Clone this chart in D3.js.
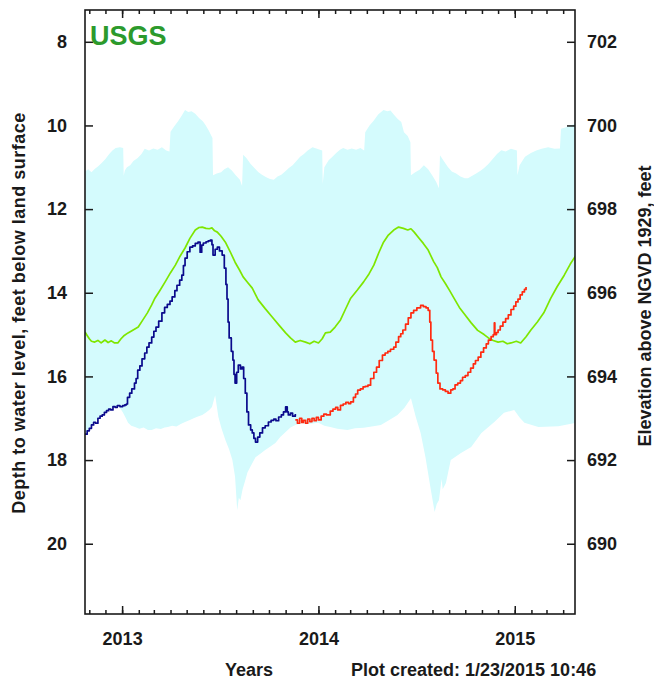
<!DOCTYPE html>
<html>
<head>
<meta charset="utf-8">
<script src="https://cdn.jsdelivr.net/npm/d3@7/dist/d3.min.js"></script>
<style>
  html, body { margin: 0; padding: 0; background: #ffffff; }
  svg { display: block; font-family: "Liberation Sans", Arial, Helvetica, sans-serif; }
</style>
</head>
<body>
<svg id="chart" width="654" height="681"></svg>
<script>
// Depth to water level (feet below land surface); land surface = 710 ft NGVD 1929
const landSurface = 710;

// Shallowest daily depth on record (top of the shaded range)
const rangeShallow = [
  ["2012-10-24",11.10],["2012-10-30",11.05],["2012-11-05",11.12],["2012-11-11",11.04],["2012-11-17",10.98],
  ["2012-11-24",10.90],["2012-12-01",10.80],["2012-12-08",10.68],["2012-12-14",10.60],["2012-12-20",10.54],
  ["2012-12-28",10.52],["2013-01-03",10.54],["2013-01-04",11.20],["2013-01-06",11.08],["2013-01-10",11.00],
  ["2013-01-16",10.95],["2013-01-22",10.85],["2013-01-30",10.78],["2013-02-06",10.68],["2013-02-12",10.56],
  ["2013-02-20",10.60],["2013-02-28",10.55],["2013-03-08",10.58],["2013-03-16",10.52],["2013-03-24",10.60],
  ["2013-03-30",10.62],["2013-04-01",10.15],["2013-04-08",10.02],["2013-04-15",9.90],["2013-04-22",9.76],
  ["2013-04-28",9.63],["2013-05-04",9.68],["2013-05-10",9.66],["2013-05-17",9.72],["2013-05-24",9.82],
  ["2013-05-31",9.90],["2013-06-05",9.99],["2013-06-11",10.12],["2013-06-18",10.30],["2013-06-19",11.19],
  ["2013-06-26",11.15],["2013-07-04",11.12],["2013-07-10",11.05],["2013-07-17",11.00],["2013-07-24",11.08],
  ["2013-08-01",11.20],["2013-08-08",11.30],["2013-08-12",11.45],["2013-08-14",10.70],["2013-08-20",10.78],
  ["2013-08-28",10.92],["2013-09-04",11.02],["2013-09-11",11.11],["2013-09-18",11.18],["2013-09-26",11.24],
  ["2013-10-03",11.28],["2013-10-10",11.30],["2013-10-17",11.22],["2013-10-24",11.18],["2013-10-31",11.10],
  ["2013-11-07",11.02],["2013-11-14",10.95],["2013-11-21",10.85],["2013-11-28",10.75],["2013-12-05",10.68],
  ["2013-12-12",10.60],["2013-12-21",10.52],["2013-12-28",10.55],["2014-01-08",10.60],["2014-01-09",11.40],
  ["2014-01-12",11.00],["2014-01-20",10.83],["2014-01-27",10.75],["2014-02-03",10.66],["2014-02-10",10.58],
  ["2014-02-16",10.54],["2014-02-24",10.58],["2014-03-04",10.55],["2014-03-12",10.58],["2014-03-20",10.54],
  ["2014-03-27",10.60],["2014-03-29",10.16],["2014-04-06",10.00],["2014-04-14",9.88],["2014-04-22",9.74],
  ["2014-05-02",9.63],["2014-05-09",9.66],["2014-05-15",9.64],["2014-05-21",9.74],["2014-05-28",9.84],
  ["2014-06-04",9.92],["2014-06-09",10.16],["2014-06-16",10.25],["2014-06-21",10.40],["2014-06-22",11.19],
  ["2014-06-30",11.12],["2014-07-08",11.06],["2014-07-16",10.95],["2014-07-24",11.05],["2014-08-01",11.20],
  ["2014-08-08",11.35],["2014-08-13",11.50],["2014-08-15",10.71],["2014-08-22",10.85],["2014-08-30",11.00],
  ["2014-09-06",11.10],["2014-09-14",11.15],["2014-09-22",11.22],["2014-09-30",11.26],["2014-10-06",11.26],
  ["2014-10-14",11.20],["2014-10-22",11.14],["2014-10-30",11.08],["2014-11-05",11.02],["2014-11-13",10.92],
  ["2014-11-21",10.80],["2014-11-29",10.68],["2014-12-07",10.59],["2014-12-15",10.62],["2014-12-25",10.56],
  ["2015-01-05",10.60],["2015-01-06",11.19],["2015-01-10",10.95],["2015-01-20",10.75],["2015-01-31",10.66],
  ["2015-02-10",10.60],["2015-02-20",10.56],["2015-03-04",10.52],["2015-03-16",10.56],["2015-03-26",10.55],
  ["2015-03-28",10.08],["2015-04-05",10.05],["2015-04-16",9.99],["2015-04-25",9.96]
];

// Deepest daily depth on record (bottom of the shaded range)
const rangeDeep = [
  ["2012-10-24",17.38],["2012-11-05",17.16],["2012-11-23",16.92],["2012-12-05",16.80],["2012-12-18",16.72],
  ["2012-12-26",16.72],["2013-01-02",16.85],["2013-01-08",17.00],["2013-01-12",17.11],["2013-01-18",17.18],
  ["2013-01-25",17.21],["2013-02-02",17.25],["2013-02-10",17.22],["2013-02-18",17.28],["2013-02-25",17.28],
  ["2013-03-05",17.24],["2013-03-14",17.26],["2013-03-21",17.22],["2013-03-27",17.21],["2013-04-04",17.18],
  ["2013-04-12",17.20],["2013-04-20",17.14],["2013-04-28",17.09],["2013-05-06",17.05],["2013-05-14",17.00],
  ["2013-05-22",16.96],["2013-05-30",16.92],["2013-06-06",16.86],["2013-06-12",16.80],["2013-06-17",16.73],
  ["2013-06-23",16.45],["2013-06-29",16.97],["2013-07-05",17.25],["2013-07-12",17.52],["2013-07-19",17.75],
  ["2013-07-25",18.00],["2013-07-30",18.40],["2013-08-03",19.20],["2013-08-06",18.90],["2013-08-09",18.96],
  ["2013-08-13",18.70],["2013-08-18",18.48],["2013-08-22",18.30],["2013-08-27",18.17],["2013-09-06",17.93],
  ["2013-09-15",17.85],["2013-09-24",17.76],["2013-10-03",17.68],["2013-10-13",17.59],["2013-10-22",17.45],
  ["2013-11-01",17.33],["2013-11-10",17.22],["2013-11-19",17.16],["2013-12-01",17.12],["2013-12-14",17.14],
  ["2014-01-01",17.11],["2014-01-12",17.18],["2014-01-23",17.21],["2014-02-05",17.25],["2014-02-24",17.28],
  ["2014-03-10",17.24],["2014-03-26",17.23],["2014-04-10",17.20],["2014-04-27",17.16],["2014-05-12",17.05],
  ["2014-05-28",16.92],["2014-06-10",16.75],["2014-06-22",16.52],["2014-07-01",16.97],["2014-07-10",17.35],
  ["2014-07-19",17.93],["2014-07-28",18.64],["2014-08-05",19.24],["2014-08-09",19.05],["2014-08-13",18.96],
  ["2014-08-18",18.45],["2014-08-20",18.70],["2014-08-26",18.55],["2014-09-04",18.00],["2014-09-23",17.83],
  ["2014-10-12",17.69],["2014-10-31",17.35],["2014-11-24",17.09],["2014-12-12",16.87],["2014-12-31",16.80],
  ["2015-01-10",16.98],["2015-01-19",17.11],["2015-02-14",17.21],["2015-03-23",17.19],["2015-04-25",17.11]
];

// Median daily depth (green line)
const medianDepth = [
  ["2012-10-24",14.94],["2012-10-28",15.02],["2012-11-01",15.10],["2012-11-05",15.16],["2012-11-11",15.18],
  ["2012-11-17",15.14],["2012-11-23",15.20],["2012-11-30",15.13],["2012-12-06",15.19],["2012-12-12",15.15],
  ["2012-12-18",15.20],["2012-12-24",15.20],["2012-12-30",15.10],["2013-01-05",15.02],["2013-01-12",14.96],
  ["2013-01-20",14.90],["2013-01-31",14.82],["2013-02-08",14.66],["2013-02-17",14.48],["2013-02-25",14.29],
  ["2013-03-03",14.13],["2013-03-12",13.95],["2013-03-22",13.74],["2013-04-01",13.52],["2013-04-10",13.34],
  ["2013-04-19",13.12],["2013-04-28",12.93],["2013-05-07",12.70],["2013-05-17",12.50],["2013-05-24",12.44],
  ["2013-05-30",12.43],["2013-06-06",12.46],["2013-06-12",12.47],["2013-06-17",12.45],["2013-06-22",12.52],
  ["2013-06-27",12.55],["2013-07-04",12.65],["2013-07-12",12.79],["2013-07-21",13.02],["2013-07-30",13.27],
  ["2013-08-07",13.45],["2013-08-14",13.62],["2013-08-22",13.75],["2013-08-31",13.89],["2013-09-11",14.17],
  ["2013-09-24",14.38],["2013-10-07",14.58],["2013-10-20",14.78],["2013-11-01",14.96],["2013-11-10",15.08],
  ["2013-11-19",15.18],["2013-11-28",15.14],["2013-12-08",15.18],["2013-12-16",15.22],["2013-12-24",15.16],
  ["2014-01-01",15.20],["2014-01-08",15.10],["2014-01-14",14.96],["2014-01-23",14.94],["2014-02-01",14.82],
  ["2014-02-11",14.65],["2014-02-20",14.40],["2014-03-02",14.13],["2014-03-14",13.94],["2014-03-26",13.74],
  ["2014-04-05",13.55],["2014-04-14",13.34],["2014-04-23",13.05],["2014-05-02",12.79],["2014-05-11",12.62],
  ["2014-05-21",12.50],["2014-05-30",12.43],["2014-06-08",12.46],["2014-06-16",12.50],["2014-06-22",12.47],
  ["2014-06-28",12.55],["2014-07-06",12.68],["2014-07-15",12.82],["2014-07-24",12.98],["2014-08-03",13.25],
  ["2014-08-10",13.40],["2014-08-17",13.62],["2014-08-25",13.78],["2014-09-02",13.95],["2014-09-10",14.13],
  ["2014-09-20",14.35],["2014-09-30",14.52],["2014-10-12",14.72],["2014-10-24",14.90],["2014-11-05",15.00],
  ["2014-11-13",15.08],["2014-11-22",15.14],["2014-12-01",15.18],["2014-12-10",15.16],["2014-12-18",15.22],
  ["2014-12-25",15.20],["2015-01-04",15.16],["2015-01-12",15.20],["2015-01-22",15.05],["2015-01-31",14.89],
  ["2015-02-12",14.70],["2015-02-24",14.48],["2015-03-09",14.13],["2015-03-21",13.85],["2015-04-03",13.58],
  ["2015-04-14",13.32],["2015-04-25",13.10]
];

// Approved daily water levels (navy line)
const approvedDepth = [
  ["2012-10-24",17.38],["2012-10-28",17.30],["2012-11-01",17.24],["2012-11-05",17.16],["2012-11-09",17.10],
  ["2012-11-13",17.12],["2012-11-17",17.00],["2012-11-21",16.95],["2012-11-25",16.92],["2012-11-29",16.86],
  ["2012-12-03",16.82],["2012-12-07",16.78],["2012-12-11",16.80],["2012-12-15",16.72],["2012-12-19",16.74],
  ["2012-12-23",16.70],["2012-12-28",16.72],["2013-01-02",16.70],["2013-01-06",16.68],["2013-01-09",16.66],
  ["2013-01-11",16.50],["2013-01-15",16.40],["2013-01-19",16.30],["2013-01-24",16.16],["2013-01-27",16.05],
  ["2013-01-30",15.85],["2013-02-03",15.75],["2013-02-07",15.58],["2013-02-12",15.44],["2013-02-16",15.30],
  ["2013-02-20",15.20],["2013-02-25",15.06],["2013-03-01",14.92],["2013-03-05",14.82],["2013-03-10",14.68],
  ["2013-03-16",14.48],["2013-03-21",14.35],["2013-03-26",14.28],["2013-03-31",14.20],["2013-04-04",14.10],
  ["2013-04-09",13.95],["2013-04-13",13.82],["2013-04-18",13.70],["2013-04-22",13.58],["2013-04-25",13.35],
  ["2013-04-28",13.17],["2013-05-02",13.02],["2013-05-07",12.91],["2013-05-12",12.88],["2013-05-17",12.82],
  ["2013-05-22",12.79],["2013-05-26",13.03],["2013-05-29",12.86],["2013-06-01",12.81],["2013-06-06",12.78],
  ["2013-06-10",12.76],["2013-06-14",12.74],["2013-06-17",12.85],["2013-06-19",13.10],["2013-06-23",12.96],
  ["2013-06-27",12.91],["2013-07-01",13.00],["2013-07-06",13.10],["2013-07-10",13.41],["2013-07-13",13.80],
  ["2013-07-15",14.15],["2013-07-17",14.70],["2013-07-19",15.08],["2013-07-23",15.40],["2013-07-26",15.61],
  ["2013-07-28",15.95],["2013-07-30",16.16],["2013-08-02",15.90],["2013-08-05",15.73],["2013-08-09",15.82],
  ["2013-08-12",15.78],["2013-08-15",16.05],["2013-08-18",16.40],["2013-08-21",16.85],["2013-08-24",17.16],
  ["2013-08-28",17.28],["2013-08-31",17.35],["2013-09-03",17.48],["2013-09-06",17.57],["2013-09-10",17.45],
  ["2013-09-14",17.35],["2013-09-19",17.23],["2013-09-24",17.18],["2013-09-30",17.09],["2013-10-05",17.05],
  ["2013-10-10",17.02],["2013-10-14",17.06],["2013-10-19",16.97],["2013-10-24",16.92],["2013-10-28",16.85],
  ["2013-11-01",16.73],["2013-11-04",16.85],["2013-11-06",16.92],["2013-11-10",16.88],["2013-11-14",16.95],
  ["2013-11-19",16.90]
];

// Provisional daily water levels (red line)
const provisionalDepth = [
  ["2013-11-19",17.04],["2013-11-23",17.12],["2013-11-27",17.00],["2013-12-01",17.10],["2013-12-04",17.05],
  ["2013-12-08",17.12],["2013-12-12",17.02],["2013-12-16",17.08],["2013-12-20",17.00],["2013-12-24",17.06],
  ["2013-12-28",16.98],["2014-01-01",17.04],["2014-01-06",16.95],["2014-01-11",16.90],["2014-01-16",16.92],
  ["2014-01-23",16.83],["2014-01-28",16.78],["2014-02-02",16.74],["2014-02-06",16.80],["2014-02-11",16.69],
  ["2014-02-16",16.66],["2014-02-21",16.62],["2014-02-26",16.65],["2014-03-02",16.61],["2014-03-07",16.50],
  ["2014-03-11",16.42],["2014-03-15",16.33],["2014-03-20",16.30],["2014-03-25",16.25],["2014-03-29",16.24],
  ["2014-04-03",16.21],["2014-04-08",16.05],["2014-04-14",15.90],["2014-04-19",15.78],["2014-04-24",15.62],
  ["2014-04-30",15.49],["2014-05-05",15.44],["2014-05-10",15.40],["2014-05-15",15.35],["2014-05-21",15.30],
  ["2014-05-25",15.18],["2014-05-30",15.05],["2014-06-03",14.98],["2014-06-07",14.89],["2014-06-12",14.75],
  ["2014-06-17",14.60],["2014-06-22",14.48],["2014-06-27",14.42],["2014-07-03",14.36],["2014-07-10",14.30],
  ["2014-07-15",14.33],["2014-07-20",14.36],["2014-07-24",14.42],["2014-07-27",14.70],["2014-07-29",15.13],
  ["2014-08-01",15.40],["2014-08-04",15.61],["2014-08-08",15.92],["2014-08-11",16.16],["2014-08-15",16.30],
  ["2014-08-20",16.32],["2014-08-25",16.36],["2014-08-30",16.40],["2014-09-04",16.32],["2014-09-08",16.30],
  ["2014-09-12",16.20],["2014-09-17",16.16],["2014-09-22",16.10],["2014-09-26",16.02],["2014-10-01",15.98],
  ["2014-10-06",15.90],["2014-10-11",15.80],["2014-10-16",15.70],["2014-10-20",15.62],["2014-10-25",15.54],
  ["2014-10-30",15.42],["2014-11-04",15.32],["2014-11-09",15.22],["2014-11-13",15.13],["2014-11-18",15.05],
  ["2014-11-22",15.00],["2014-11-24",14.72],["2014-11-25",15.00],["2014-11-28",14.95],["2014-12-01",14.89],
  ["2014-12-05",14.80],["2014-12-10",14.70],["2014-12-15",14.62],["2014-12-20",14.53],["2014-12-25",14.40],
  ["2014-12-30",14.32],["2015-01-03",14.22],["2015-01-07",14.15],["2015-01-11",14.05],["2015-01-15",13.98],
  ["2015-01-19",13.92],["2015-01-22",13.86]
];

const depthTicks = [8, 10, 12, 14, 16, 18, 20];
const elevationTicks = [690, 692, 694, 696, 698, 700, 702];
const depthDomain = [7.24, 21.68];
const dateDomain = ["2012-10-24", "2015-04-23"];

// ---- layout ----
const plot = { left: 85, right: 575, top: 10, bottom: 614 };
const svg = d3.select("#chart");
const parse = d3.utcParse("%Y-%m-%d");
const toPoints = arr => arr.map(([d, v]) => ({ date: parse(d), v }));

const x = d3.scaleUtc().domain(dateDomain.map(parse)).range([plot.left, plot.right]);
const y = d3.scaleLinear().domain(depthDomain).range([plot.top, plot.bottom]);
const yElev = d3.scaleLinear()
  .domain(depthDomain.map(d => landSurface - d))
  .range([plot.top, plot.bottom]);

svg.append("defs").append("clipPath").attr("id", "plot-clip")
  .append("rect")
  .attr("x", plot.left).attr("y", plot.top)
  .attr("width", plot.right - plot.left).attr("height", plot.bottom - plot.top);

const data = svg.append("g").attr("clip-path", "url(#plot-clip)");
const straightLine = d3.line().x(d => x(d.date)).y(d => y(d.v));
// measured daily values drawn as steps
const stepLine = d3.line().x(d => x(d.date)).y(d => y(d.v)).curve(d3.curveStepAfter);

// shaded range of record
const band = toPoints(rangeShallow).concat(toPoints(rangeDeep).reverse());
data.append("path").attr("d", straightLine(band) + "Z")
  .attr("fill", "#d4fbfd").attr("stroke", "none");

const series = [
  { values: medianDepth, color: "#7ee600", gen: straightLine },
  { values: approvedDepth, color: "#0a0a8c", gen: stepLine },
  { values: provisionalDepth, color: "#ff2a10", gen: stepLine }
];
series.forEach(s => {
  data.append("path").attr("d", s.gen(toPoints(s.values)))
    .attr("fill", "none").attr("stroke", s.color)
    .attr("stroke-width", 1.7).attr("stroke-linejoin", "round");
});

// ---- axes ----
const axisColor = "#1a1a1a";
function styleAxis(g, fontSize) {
  g.select(".domain").remove();
  g.selectAll(".tick line").attr("stroke", axisColor).attr("stroke-width", 1.5);
  g.selectAll(".tick text").attr("fill", "#1a1a1a")
    .style("font-size", fontSize + "px").style("font-weight", "bold")
    .style("font-family", '"Liberation Sans", Arial, sans-serif');
}

// bottom: monthly minor ticks + yearly labelled ticks
svg.append("g").attr("transform", `translate(0,${plot.bottom})`)
  .call(d3.axisBottom(x).ticks(d3.utcMonth.every(1)).tickSize(-4).tickFormat(""))
  .call(g => styleAxis(g, 18));
svg.append("g").attr("transform", `translate(0,${plot.bottom})`)
  .call(d3.axisBottom(x).ticks(d3.utcYear.every(1)).tickSize(-8).tickPadding(18)
    .tickFormat(d3.utcFormat("%Y")))
  .call(g => styleAxis(g, 18));

// top: mirrored ticks
svg.append("g").attr("transform", `translate(0,${plot.top})`)
  .call(d3.axisTop(x).ticks(d3.utcMonth.every(1)).tickSize(-4).tickFormat(""))
  .call(g => styleAxis(g, 18));
svg.append("g").attr("transform", `translate(0,${plot.top})`)
  .call(d3.axisTop(x).ticks(d3.utcYear.every(1)).tickSize(-8).tickFormat(""))
  .call(g => styleAxis(g, 18));

// left: depth below land surface
svg.append("g").attr("transform", `translate(${plot.left},0)`)
  .call(d3.axisLeft(y).tickValues(depthTicks).tickSize(-8).tickPadding(18)
    .tickFormat(d3.format("d")))
  .call(g => styleAxis(g, 18));

// right: elevation
svg.append("g").attr("transform", `translate(${plot.right},0)`)
  .call(d3.axisRight(yElev).tickValues(elevationTicks).tickSize(-8).tickPadding(12)
    .tickFormat(d3.format("d")))
  .call(g => styleAxis(g, 18));

// frame
svg.append("rect")
  .attr("x", plot.left).attr("y", plot.top)
  .attr("width", plot.right - plot.left).attr("height", plot.bottom - plot.top)
  .attr("fill", "none").attr("stroke", axisColor).attr("stroke-width", 1.6);

// ---- labels ----
svg.append("text").attr("x", 90).attr("y", 45)
  .attr("fill", "#2c9a2c").style("font-size", "27px").style("font-weight", "bold")
  .text("USGS");

svg.append("text")
  .attr("transform", "translate(19,313) rotate(-90)")
  .attr("text-anchor", "middle").attr("dominant-baseline", "central")
  .attr("fill", "#1a1a1a").style("font-size", "18px").style("font-weight", "bold")
  .style("letter-spacing", "0.5px")
  .text("Depth to water level, feet below land surface");

svg.append("text")
  .attr("transform", "translate(645,306) rotate(-90)")
  .attr("text-anchor", "middle").attr("dominant-baseline", "central")
  .attr("fill", "#1a1a1a").style("font-size", "18px").style("font-weight", "bold")
  .text("Elevation above NGVD 1929, feet");

svg.append("text").attr("x", 249).attr("y", 676)
  .attr("text-anchor", "middle")
  .attr("fill", "#1a1a1a").style("font-size", "18px").style("font-weight", "bold")
  .text("Years");

svg.append("text").attr("x", 351).attr("y", 676)
  .attr("fill", "#1a1a1a").style("font-size", "18px").style("font-weight", "bold")
  .text("Plot created: 1/23/2015 10:46");
</script>
</body>
</html>
